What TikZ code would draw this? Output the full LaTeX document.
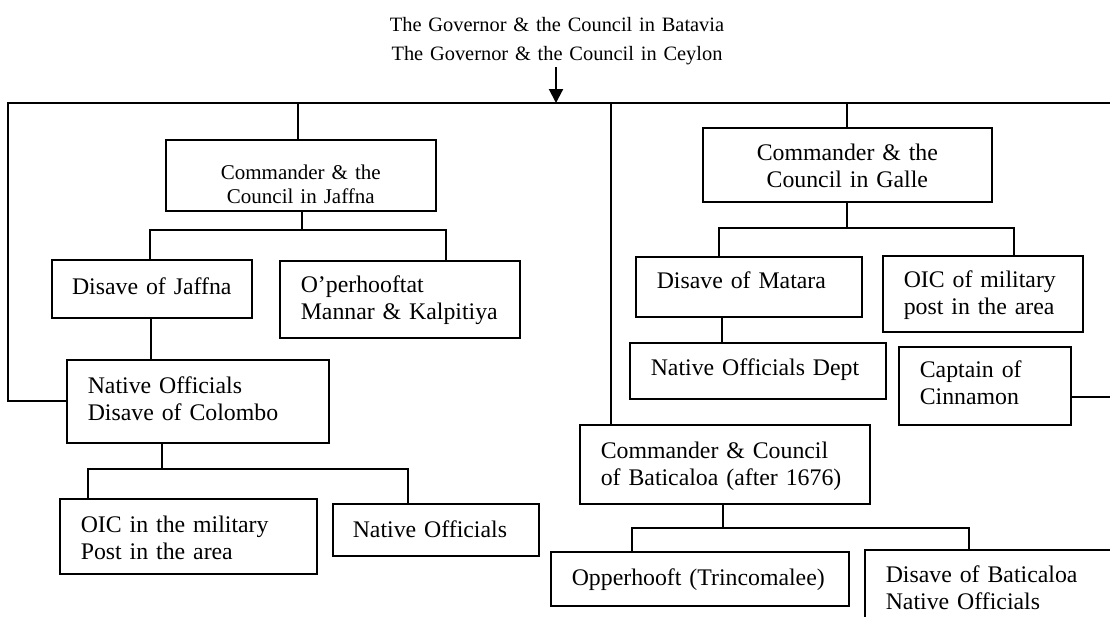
\documentclass[tikz,border=0pt]{standalone}
\usepackage{fontspec}
\setmainfont{Liberation Serif}
\usetikzlibrary{arrows.meta}
\tikzset{
  box/.style={draw, line width=1.6pt, anchor=north west, inner ysep=0pt, inner xsep=21pt, align=left, font=\fontsize{23.8}{27}\selectfont},
  cbox/.style={box, align=center},
  conn/.style={line width=2.1pt},
}
\begin{document}
\begin{tikzpicture}[x=1pt, y=-1pt]
\useasboundingbox (0,0) rectangle (1110,616);
\clip (0,0) rectangle (1110,616);

% title
\node[anchor=north, inner sep=0pt, text width=420pt, align=center, text height=31pt, text depth=36pt,
      font=\fontsize{20.4}{29}\selectfont] (T) at (557,0)
  {The Governor \& the Council in Batavia\\The Governor \& the Council in Ceylon};

% boxes
\node[cbox, inner xsep=20pt, text width=230pt, text height=40pt, text depth=31pt, font=\fontsize{21}{24}\selectfont] (J) at (165,139)
  {Commander \& the\\Council in Jaffna};
\node[cbox, inner xsep=10pt, text width=180pt, text height=35pt, text depth=23pt] (DJ) at (51,259)
  {Disave of Jaffna};
\node[box, text width=198pt, text height=32pt, text depth=45pt] (OP) at (279,260)
  {O’perhooftat\\Mannar \& Kalpitiya};
\node[box, text width=220pt, text height=34pt, text depth=49pt] (NOC) at (66,359)
  {Native Officials\\Disave of Colombo};
\node[box, text width=215pt, text height=34pt, text depth=41pt] (OICL) at (59,498)
  {OIC in the military\\Post in the area};
\node[box, inner xsep=20pt, text width=166pt, text height=34pt, text depth=18pt] (NO) at (332,503)
  {Native Officials};

\node[cbox, inner xsep=20pt, text width=249pt, text height=33pt, text depth=41pt] (G) at (702,127)
  {Commander \& the\\Council in Galle};
\node[box, text width=184pt, text height=32pt, text depth=28pt] (DM) at (635,256)
  {Disave of Matara};
\node[box, text width=158pt, text height=32pt, text depth=44pt] (OICR) at (882,255)
  {OIC of military\\post in the area};
\node[box, text width=214pt, text height=33pt, text depth=23pt] (NOD) at (629,342)
  {Native Officials Dept};
\node[box, text width=130pt, text height=31pt, text depth=47pt] (CC) at (898,346)
  {Captain of\\Cinnamon};
\node[box, text width=248pt, text height=34pt, text depth=45pt] (B) at (579,424)
  {Commander \& Council\\of Baticaloa (after 1676)};
\node[box, text width=256pt, text height=34pt, text depth=20pt] (OT) at (550,551)
  {Opperhooft (Trincomalee)};
\node[box, text width=234pt, text height=33pt, text depth=68pt] (DB) at (864,549)
  {Disave of Baticaloa\\Native Officials};

% bus coordinates
\coordinate (tl) at (8,103);
\coordinate (tr) at (1125,103);
\coordinate (arr) at (556,103);
\coordinate (tJ) at (298,103);
\coordinate (tC) at (611,103);
\coordinate (tG) at (847,103);
\coordinate (jL) at (150,230);
\coordinate (jM) at (302,230);
\coordinate (jR) at (446,230);
\coordinate (dj) at (151,300);
\coordinate (nL) at (88,469);
\coordinate (nM) at (162,469);
\coordinate (nR) at (408,469);
\coordinate (gL) at (719,228);
\coordinate (gM) at (847,228);
\coordinate (gR) at (1014,228);
\coordinate (mx) at (722,330);
\coordinate (rE) at (1125,397);
\coordinate (bL) at (632,528);
\coordinate (bM) at (723,528);
\coordinate (bR) at (969,528);

% connectors
\draw[conn, -{Triangle[length=14pt, width=14pt]}] (T.south -| arr) -- (arr);
\draw[conn] (NOC.west) -| (tl) -- (tr);
\draw[conn] (tJ) -- (tJ |- J.north);
\draw[conn] (tC) -- (tC |- B.north);
\draw[conn] (tG) -- (tG |- G.north);

\draw[conn] (jM |- J.south) -- (jM);
\draw[conn] (jL |- DJ.north) -- (jL) -- (jR) -- (jR |- OP.north);
\draw[conn] (dj |- DJ.south) -- (dj |- NOC.north);
\draw[conn] (nM |- NOC.south) -- (nM);
\draw[conn] (nL |- OICL.north) -- (nL) -- (nR) -- (nR |- NO.north);

\draw[conn] (gM |- G.south) -- (gM);
\draw[conn] (gL |- DM.north) -- (gL) -- (gR) -- (gR |- OICR.north);
\draw[conn] (mx |- DM.south) -- (mx |- NOD.north);
\draw[conn] (rE -| CC.east) -- (rE);

\draw[conn] (bM |- B.south) -- (bM);
\draw[conn] (bL |- OT.north) -- (bL) -- (bR) -- (bR |- DB.north);
\end{tikzpicture}
\end{document}
